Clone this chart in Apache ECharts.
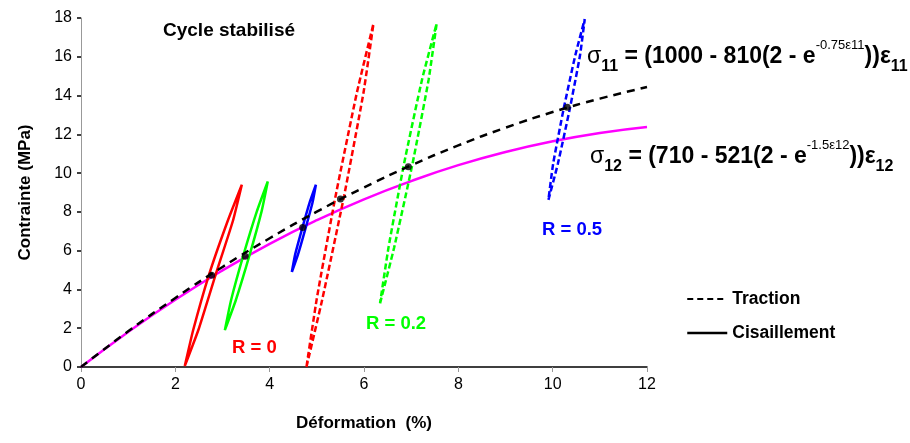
<!DOCTYPE html>
<html><head><meta charset="utf-8">
<script src="https://cdn.jsdelivr.net/npm/echarts@6/dist/echarts.min.js"></script>
<style>html,body{margin:0;padding:0;background:#fff}#c{width:910px;height:443px}</style>
</head><body><div id="c"></div>
<script>
// ---- data ----
const strain   = [0, 1, 2, 3, 4, 5, 6, 7, 8, 9, 10, 11, 12];
const traction = [0, 1.84, 3.56, 5.16, 6.64, 8.01, 9.26, 10.40, 11.43, 12.34, 13.15, 13.84, 14.44];
const shear    = [0, 1.81, 3.47, 4.98, 6.35, 7.57, 8.65, 9.59, 10.41, 11.09, 11.64, 12.07, 12.38];

// stabilised loops (Cisaillement = solid, Traction = dashed), [strain, stress]
const loopShearR0  = [[2.20,0.05],[2.49,1.92],[2.85,4.73],[3.22,7.53],[3.41,9.40],[3.11,7.53],[2.71,4.73],[2.38,1.92],[2.20,0.05]];
const loopShearR02 = [[3.05,1.90],[3.28,3.43],[3.57,5.74],[3.83,8.04],[3.96,9.57],[3.73,8.04],[3.44,5.74],[3.18,3.43],[3.05,1.90]];
const loopShearR05 = [[4.47,4.90],[4.60,5.80],[4.76,7.15],[4.91,8.50],[4.98,9.40],[4.85,8.50],[4.69,7.15],[4.54,5.80],[4.47,4.90]];
const loopTracR0   = [[4.78,0.00],[5.12,3.54],[5.58,8.85],[5.99,14.16],[6.20,17.70],[5.85,14.16],[5.40,8.85],[5.00,3.54],[4.78,0.00]];
const loopTracR02  = [[6.34,3.28],[6.64,6.17],[7.03,10.50],[7.37,14.82],[7.54,17.71],[7.23,14.82],[6.85,10.50],[6.52,6.17],[6.34,3.28]];
const loopTracR05  = [[9.91,8.62],[10.11,10.48],[10.36,13.28],[10.58,16.08],[10.68,17.94],[10.48,16.08],[10.23,13.28],[10.01,10.48],[9.91,8.62]];
const dots = [[2.77,4.73],[3.48,5.71],[4.70,7.19],[5.50,8.66],[6.94,10.33],[10.31,13.40]];

const xMin = 0, xMax = 12, xStep = 2;
const yMin = 0, yMax = 18, yStep = 2;

const RED = '#ff0000', GREEN = '#00ff00', BLUE = '#0000ff', MAG = '#ff00ff';
const FONT = 'Liberation Sans, Arial, sans-serif';

function pairs(xs, ys){ return xs.map((x,i)=>[x, ys[i]]); }
function loop(name, data, color, dashed){
  return { name, type:'line', data, symbol:'none', smooth:0.15, z:3,
    lineStyle:{ color, width:2.5, type: dashed ? [6,3] : 'solid' } };
}
function formula(color){
  const base = { fontFamily:FONT, fontWeight:'bold', color };
  return {
    n:  Object.assign({}, base, { fontSize:23, lineHeight:36, verticalAlign:'middle' }),
    g:  Object.assign({}, base, { fontSize:23, fontWeight:'normal', lineHeight:36, verticalAlign:'middle' }),
    sub:Object.assign({}, base, { fontSize:16, lineHeight:36, verticalAlign:'bottom' }),
    sup:Object.assign({}, base, { fontSize:13, fontWeight:'normal', lineHeight:36, verticalAlign:'top' })
  };
}

const chart = echarts.init(document.getElementById('c'), null, {renderer:'canvas'});
chart.setOption({
  animation:false,
  backgroundColor:'#fff',
  grid:{ left:81, right:263, top:18, bottom:76 },
  xAxis:{ type:'value', min:xMin, max:xMax, interval:xStep,
    name:'Déformation  (%)', nameLocation:'middle', nameGap:48,
    nameTextStyle:{ fontFamily:FONT, fontWeight:'bold', fontSize:17, color:'#000' },
    axisLine:{ lineStyle:{ color:'#000', width:1.5 } },
    axisTick:{ show:true, length:5, lineStyle:{ color:'#999' } },
    axisLabel:{ fontFamily:FONT, fontSize:16, color:'#000', margin:10 },
    splitLine:{ show:false } },
  yAxis:{ type:'value', min:yMin, max:yMax, interval:yStep,
    name:'Contrainte (MPa)', nameLocation:'middle', nameGap:47,
    nameTextStyle:{ fontFamily:FONT, fontWeight:'bold', fontSize:17, color:'#000' },
    axisLine:{ show:true, lineStyle:{ color:'#999', width:1 } },
    axisTick:{ show:true, length:4, lineStyle:{ color:'#000', width:1.5 } },
    axisLabel:{ fontFamily:FONT, fontSize:16, color:'#000', margin:9 },
    splitLine:{ show:false } },
  legend:{ orient:'vertical', left:686, top:290, padding:0, itemWidth:40, itemHeight:12, itemGap:16,
    itemStyle:{ opacity:0, color:'transparent', borderWidth:0 },
    textStyle:{ fontFamily:FONT, fontWeight:'bold', fontSize:17.5, color:'#000' },
    data:[ { name:'Traction', lineStyle:{ color:'#000', width:2, type:[6,4] } },
           { name:'Cisaillement', lineStyle:{ color:'#000', width:2.5, type:'solid' } } ] },
  series:[
    { name:'Cisaillement', type:'line', data:pairs(strain, shear), symbol:'none', smooth:true, z:2,
      lineStyle:{ color:MAG, width:2.5 }, itemStyle:{ color:MAG } },
    { name:'Traction', type:'line', data:pairs(strain, traction), symbol:'none', smooth:true, z:4,
      lineStyle:{ color:'#000', width:2.5, type:[8,6] }, itemStyle:{ color:'#000' } },
    loop('R0 cisaillement', loopShearR0, RED, false),
    loop('R0.2 cisaillement', loopShearR02, GREEN, false),
    loop('R0.5 cisaillement', loopShearR05, BLUE, false),
    loop('R0 traction', loopTracR0, RED, true),
    loop('R0.2 traction', loopTracR02, GREEN, true),
    loop('R0.5 traction', loopTracR05, BLUE, true),
    { name:'points', type:'scatter', data:dots, symbol:'circle', symbolSize:7, z:6,
      itemStyle:{ color:'#000' } }
  ],
  graphic:[
    { type:'text', left:163, top:21, style:{ text:'Cycle stabilisé', font:'bold 19px '+FONT, fill:'#000' } },
    { type:'text', left:587, top:39, style:{
        text:'{g|σ}{sub|11}{n| = (1000 - 810(2 - e}{sup|-0.75ε11}{n|))ε}{sub|11}', rich:formula('#000') } },
    { type:'text', left:590, top:139, style:{
        text:'{g|σ}{sub|12}{n| = (710 - 521(2 - e}{sup|-1.5ε12}{n|))ε}{sub|12}', rich:formula(MAG) } },
    { type:'text', left:232, top:338, style:{ text:'R = 0', font:'bold 18.5px '+FONT, fill:RED } },
    { type:'text', left:366, top:314, style:{ text:'R = 0.2', font:'bold 18.5px '+FONT, fill:GREEN } },
    { type:'text', left:542, top:220, style:{ text:'R = 0.5', font:'bold 18.5px '+FONT, fill:BLUE } }
  ]
});
</script></body></html>
